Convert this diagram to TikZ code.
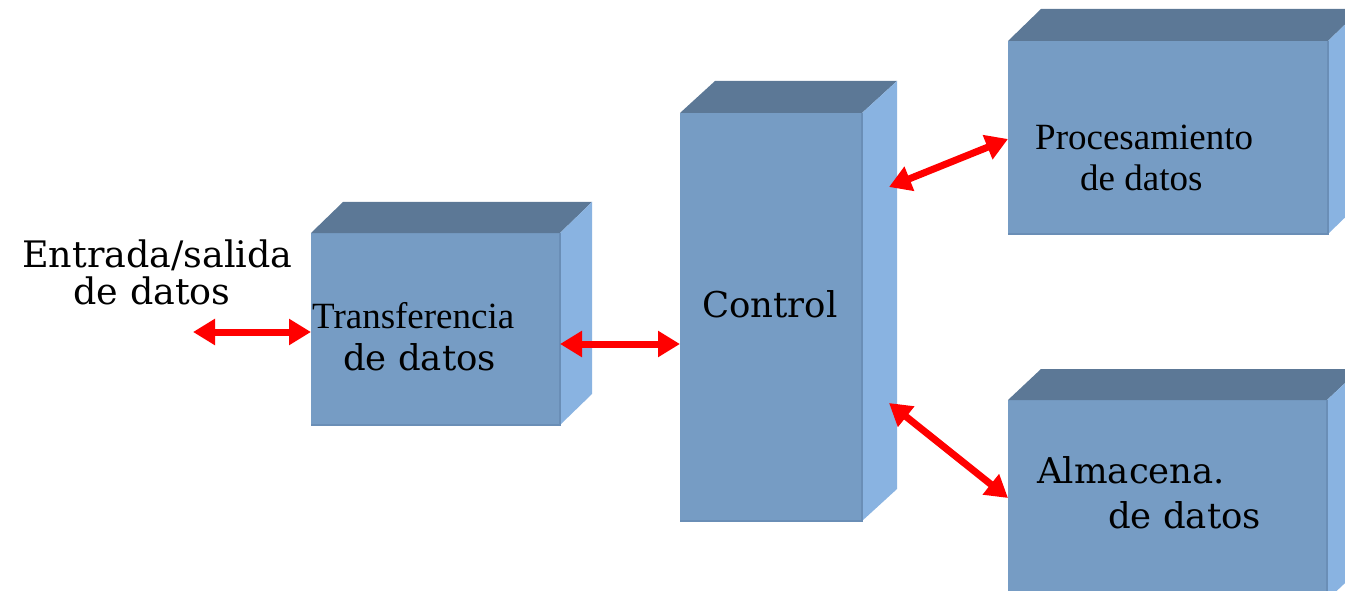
\documentclass[tikz,border=0pt]{standalone}
\usepackage{fontspec}
\newfontfamily\timesfont{Liberation Serif}
\newfontfamily\bookfont{DejaVu Serif}
\usetikzlibrary{arrows.meta,calc}

\definecolor{frontblue}{RGB}{118,156,196}
\definecolor{topblue}{RGB}{92,120,150}
\definecolor{sideblue}{RGB}{137,179,225}
\definecolor{edgeblue}{RGB}{106,142,182}

% Cuboid block: name, x, y (top-left of front face), width, height, depth x, depth y
\newcommand\blockbox[7]{%
  \node[frontface, minimum width=#4pt, minimum height=#5pt, anchor=north west] (#1) at (#2,#3) {};
  \fill[topblue] (#1.north west) -- ++(#6,-#7) -- ($(#1.north east)+(#6,-#7)$) -- (#1.north east) -- cycle;
  \fill[sideblue] (#1.north east) -- ++(#6,-#7) -- ($(#1.south east)+(#6,-#7)$) -- (#1.south east) -- cycle;
  \draw[edgeblue, line width=1.2pt] (#1.north east) -- (#1.south east) -- (#1.south west);
}

\begin{document}
\begin{tikzpicture}[x=1pt,y=-1pt,
  frontface/.style={fill=frontblue, draw=none, inner sep=0pt, outer sep=0pt},
  link/.style={draw=red, line width=7pt,
    {Triangle[length=22pt,width=25pt]}-{Triangle[length=22pt,width=25pt]}},
  bktext/.style={inner sep=0pt, anchor=base west, font=\bookfont\fontsize{35.5}{42}\selectfont},
  tmtext/.style={inner sep=0pt, anchor=base west, font=\timesfont\fontsize{37}{44}\selectfont},
  bkcenter/.style={inner sep=0pt, anchor=base, font=\bookfont\fontsize{36.5}{44}\selectfont}]
\useasboundingbox (0,0) rectangle (1345,591);
\clip (0,0) rectangle (1345,591);

% blocks
\blockbox{trans}{311}{233}{249}{192}{32}{31}
\blockbox{ctl}{680}{113}{182}{408}{35}{32}
\blockbox{proc}{1008}{41}{320}{193}{33}{32}
\blockbox{store}{1008}{400}{319}{200}{33}{31}

% connectors
\coordinate (io) at (193,332);
\coordinate (tout) at ($(trans.east)+(0,15)$);
\coordinate (cup) at ($(ctl.north east)+(27,74)$);
\coordinate (cdown) at ($(ctl.north east)+(27,290)$);
\coordinate (pin) at ($(proc.west)+(0,1.5)$);
\coordinate (sin) at ($(store.north west)+(0,98)$);

\draw[link] (io) -- (io -| trans.west);
\draw[link] (tout) -- (tout -| ctl.west);
\draw[link] (cup) -- (pin);
\draw[link] (cdown) -- (sin);

% labels
\node[bkcenter] (io1) at (157.5,267) {Entrada/salida};
\node[bkcenter] (io2) at (152,304) {de datos};
\node[tmtext] (tr1) at (312,328) {Transferencia};
\node[bktext] (tr2) at (343,370) {de datos};
\node[bktext] (ct1) at (702,317) {Control};
\node[tmtext] (pr1) at (1035,150) {Procesamiento};
\node[tmtext] (pr2) at (1080,190) {de datos};
\node[bktext] (st1) at (1037,483) {Almacena.};
\node[bktext] (st2) at (1108,528) {de datos};
\end{tikzpicture}
\end{document}
